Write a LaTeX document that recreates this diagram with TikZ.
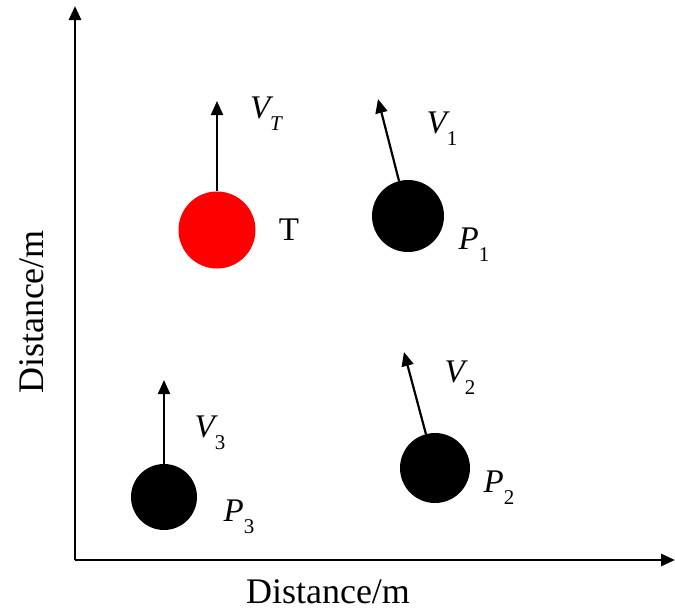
\documentclass[tikz,border=0pt]{standalone}
\usepackage{fontspec}
\setmainfont{Liberation Serif}
\usetikzlibrary{arrows.meta,positioning}
\definecolor{targetred}{HTML}{FF0000}

\newcommand{\velname}[2]{{\itshape #1}\raisebox{-0.36em}{\fontsize{21}{21}\selectfont #2}}

\begin{document}
\begin{tikzpicture}[
    x=1pt, y=-1pt,
    >={Triangle[length=14pt,width=12pt]},
    every node/.style={font=\fontsize{33}{37}\selectfont},
    axis/.style={->, line width=2.8pt},
    velocity/.style={->, line width=2.2pt},
    ball/.style={circle, inner sep=0pt, minimum size=#1},
    caption/.style={font=\fontsize{36}{40}\selectfont}
]
\useasboundingbox (0,0) rectangle (675,613);

% axes
\coordinate (origin) at (75,560);
\coordinate (ytip) at (75,6);
\coordinate (xtip) at (675,560);
\draw[axis] (origin) -- (ytip);
\draw[axis] (origin) -- (xtip);
\node[caption] (xlabel) at (328,592) {Distance/m};
\node[caption, rotate=90] (ylabel) at (32,312) {Distance/m};

% target and pursuers
\node[ball=77pt, fill=targetred] (target) at (217,230) {};
\node[ball=72pt, fill=black] (p1) at (408,216) {};
\node[ball=70pt, fill=black] (p2) at (435,468) {};
\node[ball=66pt, fill=black] (p3) at (164,497) {};

% velocity vectors
\coordinate (vttip) at (217,101);
\coordinate (v1tip) at (378,99);
\coordinate (v2tip) at (404,352);
\coordinate (v3tip) at (164,380);
\draw[velocity] (target) -- (vttip);
\draw[velocity] (p1) -- (v1tip);
\draw[velocity] (p2) -- (v2tip);
\draw[velocity] (p3) -- (v3tip);

% labels
\node (tname) at (289,230) {T};
\node (vtname) at (266,114) {\velname{V}{\itshape T}};
\node (v1name) at (442,129) {\velname{V}{1}};
\node (v2name) at (460,378) {\velname{V}{2}};
\node (v3name) at (210,433) {\velname{V}{3}};
\node (p1name) at (474,245) {\velname{P}{1}};
\node (p2name) at (499,488) {\velname{P}{2}};
\node (p3name) at (239,517) {\velname{P}{3}};

\end{tikzpicture}
\end{document}
